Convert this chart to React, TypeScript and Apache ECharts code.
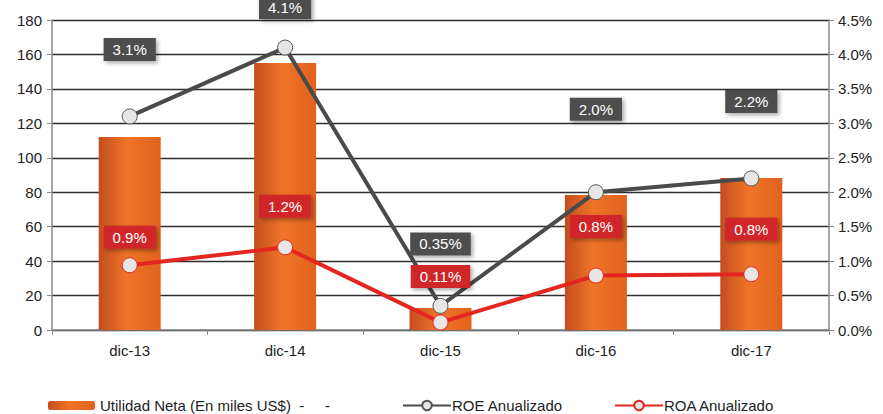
import React, { useEffect, useRef } from "react";
import * as echarts from "echarts";

const categories = ["dic-13", "dic-14", "dic-15", "dic-16", "dic-17"];
const utilidad = [112, 155, 12.8, 78.4, 88.3];
const roe = [3.1, 4.1, 0.35, 2.0, 2.2];
const roeLabels = ["3.1%", "4.1%", "0.35%", "2.0%", "2.2%"];
const roa = [0.94, 1.2, 0.11, 0.79, 0.81];
const roaLabels = ["0.9%", "1.2%", "0.11%", "0.8%", "0.8%"];
const leftTicks = { min: 0, max: 180, interval: 20 };
const rightTicks = { min: 0, max: 4.5, interval: 0.5 };

// label vertical offsets (styling)
const roeLabelDy = [-67, -40, -62, -83, -77];
const roaLabelDy = [-28, -41, -46, -49, -45];

const FONT = "Liberation Sans, Arial, sans-serif";

export default function App() {
  const ref = useRef<HTMLDivElement>(null);
  useEffect(() => {
    const chart = echarts.init(ref.current!, null, { renderer: "svg" });
    const barColor = new echarts.graphic.LinearGradient(0, 0, 1, 0, [
      { offset: 0, color: "#c44d1e" },
      { offset: 0.45, color: "#ef7428" },
      { offset: 1, color: "#e2621d" },
    ]);
    const labelBase = {
      show: true,
      position: "inside",
      color: "#ffffff",
      fontFamily: FONT,
      fontSize: 15,
      padding: [4, 9, 4, 9],
      shadowColor: "rgba(0,0,0,0.35)",
      shadowBlur: 4,
      shadowOffsetX: 2,
      shadowOffsetY: 2,
    };
    const symbolStyle = {
      color: "#e6e6e6",
      borderColor: "#ffffff",
      borderWidth: 1,
    };
    const legendText = { fontSize: 15, color: "#222", fontFamily: FONT, lineHeight: 15 };
    chart.setOption({
      animation: false,
      textStyle: { fontFamily: FONT },
      grid: { left: 52, right: 54, top: 20, bottom: 84 },
      legend: [
        {
          data: ["Utilidad Neta (En miles US$)"],
          left: 48,
          top: 398,
          padding: 0,
          itemWidth: 47,
          itemHeight: 9,
          itemGap: 4,
          formatter: (n: string) => n + "  -     -",
          textStyle: legendText,
        },
        {
          data: ["ROE Anualizado"],
          left: 402,
          top: 398,
          padding: 0,
          itemWidth: 48,
          itemHeight: 12,
          textStyle: { ...legendText, padding: [0, 0, 0, -4] },
        },
        {
          data: ["ROA Anualizado"],
          left: 614,
          top: 398,
          padding: 0,
          itemWidth: 48,
          itemHeight: 12,
          textStyle: { ...legendText, padding: [0, 0, 0, -4] },
        },
      ],
      xAxis: {
        type: "category",
        data: categories,
        axisLine: { lineStyle: { color: "#888", width: 1.5 } },
        axisTick: { show: true, length: 5, lineStyle: { color: "#888" } },
        axisLabel: { fontSize: 15, color: "#222", margin: 13 },
      },
      yAxis: [
        {
          type: "value",
          ...leftTicks,
          axisLine: { show: true, lineStyle: { color: "#888", width: 1.5 } },
          axisTick: { show: true, length: 5, lineStyle: { color: "#888" } },
          axisLabel: { fontSize: 15, color: "#222", margin: 10 },
          splitLine: { lineStyle: { color: "#2e2e2e", width: 1.3 } },
        },
        {
          type: "value",
          ...rightTicks,
          position: "right",
          axisLine: { show: true, lineStyle: { color: "#888", width: 1.5 } },
          axisTick: { show: true, length: 5, lineStyle: { color: "#888" } },
          axisLabel: {
            fontSize: 15,
            color: "#222",
            margin: 9,
            formatter: (v: number) => v.toFixed(1) + "%",
          },
          splitLine: { show: false },
        },
      ],
      series: [
        {
          name: "Utilidad Neta (En miles US$)",
          type: "bar",
          data: utilidad,
          barWidth: 62,
          itemStyle: { color: barColor },
        },
        {
          name: "ROE Anualizado",
          type: "line",
          yAxisIndex: 1,
          z: 3,
          data: roe.map((v, i) => ({
            value: v,
            label: {
              ...labelBase,
              backgroundColor: "#4e4e4e",
              offset: [0, roeLabelDy[i]],
              formatter: () => roeLabels[i],
            },
          })),
          symbol: "circle",
          symbolSize: 15,
          showAllSymbol: true,
          lineStyle: { color: "#4a4a4a", width: 4 },
          itemStyle: { ...symbolStyle, borderColor: "#555" },
        },
        {
          name: "ROA Anualizado",
          type: "line",
          yAxisIndex: 1,
          z: 4,
          data: roa.map((v, i) => ({
            value: v,
            label: {
              ...labelBase,
              backgroundColor: "#d0262a",
              offset: [0, roaLabelDy[i]],
              formatter: () => roaLabels[i],
            },
          })),
          symbol: "circle",
          symbolSize: 15,
          showAllSymbol: true,
          lineStyle: { color: "#e3261f", width: 4 },
          itemStyle: { ...symbolStyle, borderColor: "#e3261f" },
        },
      ],
    });
    return () => chart.dispose();
  }, []);
  return <div ref={ref} style={{ width: 883, height: 414, position: "absolute", left: 0, top: 0 }} />;
}
